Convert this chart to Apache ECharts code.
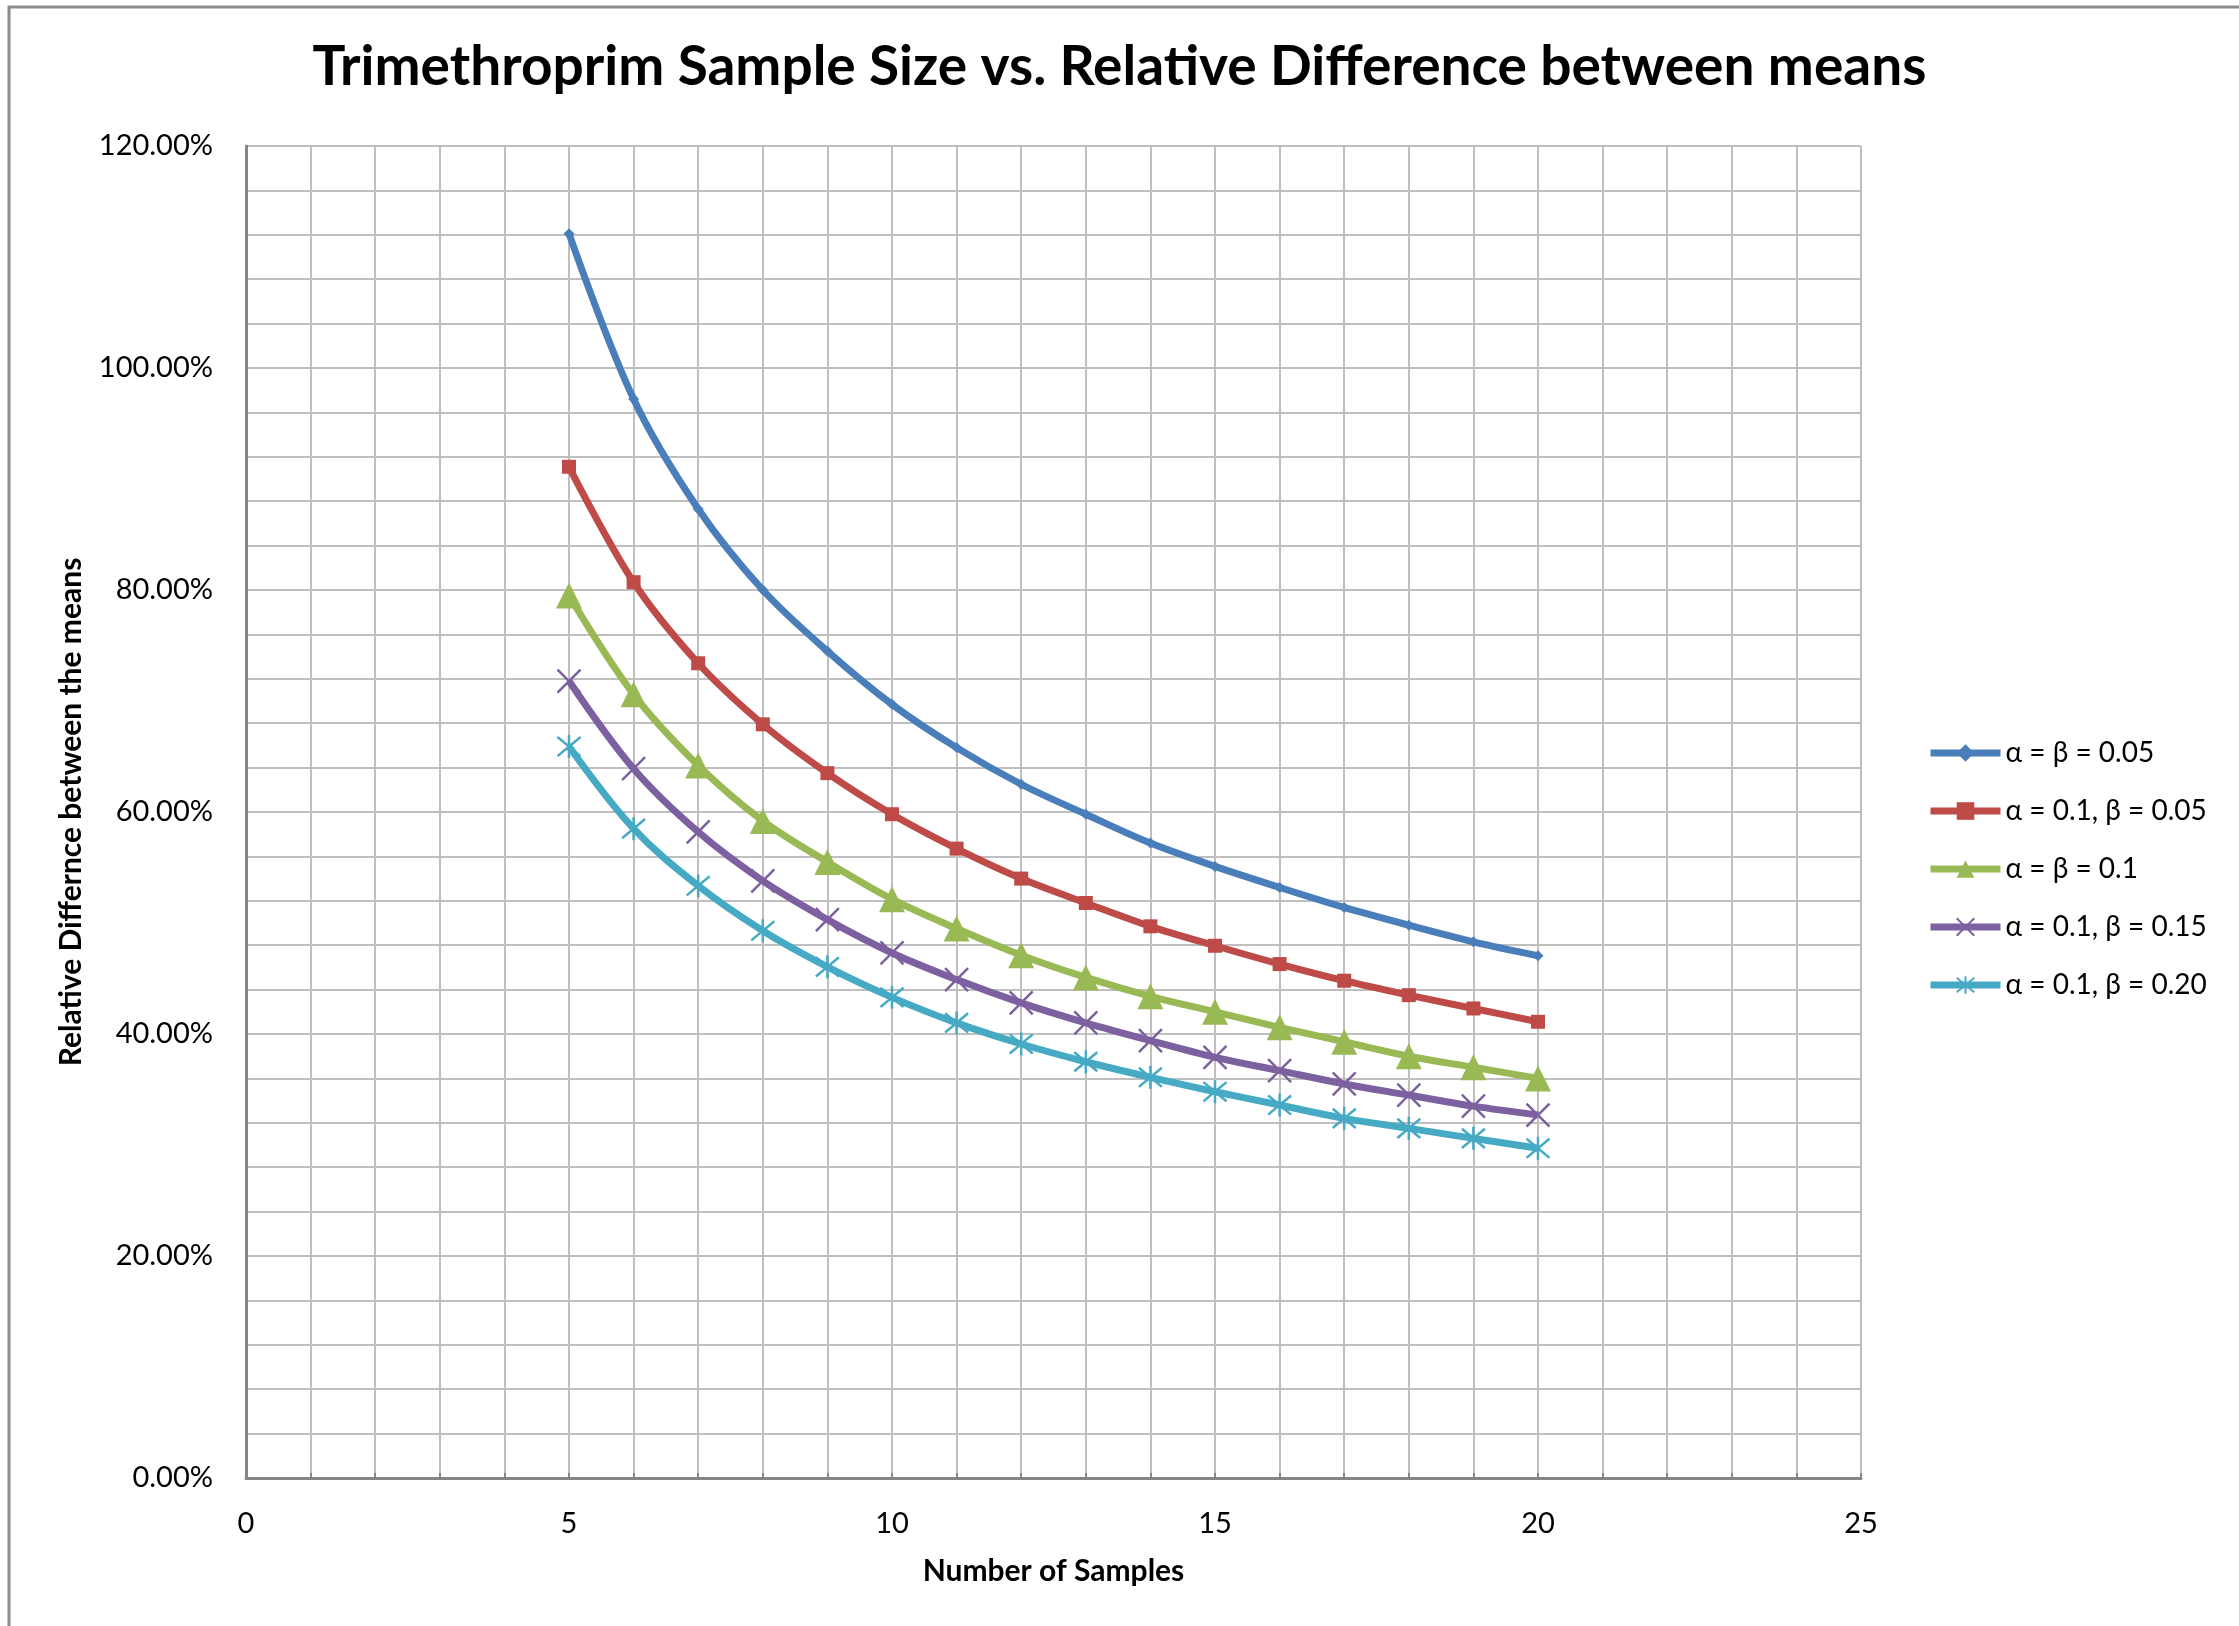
<!DOCTYPE html>
<html>
<head>
<meta charset="utf-8">
<script src="https://cdn.jsdelivr.net/npm/echarts@6/dist/echarts.min.js"></script>
<style>
  html, body { margin: 0; padding: 0; background: #fff; }
  #chart { width: 2239px; height: 1626px; }
</style>
</head>
<body>
<div id="chart"></div>
<script>
// Number of samples
const samples = [5, 6, 7, 8, 9, 10, 11, 12, 13, 14, 15, 16, 17, 18, 19, 20];

// Relative difference between means (%)
const ab005 = [112.1, 97.2, 87.3, 80.0, 74.5, 69.7, 65.8, 62.5, 59.8, 57.2, 55.1, 53.2, 51.4, 49.8, 48.3, 47.05];
const a01b005 = [91.1, 80.7, 73.4, 67.9, 63.5, 59.8, 56.7, 54.0, 51.8, 49.7, 47.95, 46.3, 44.8, 43.5, 42.3, 41.1];
const ab01 = [79.5, 70.6, 64.2, 59.2, 55.5, 52.15, 49.5, 47.1, 45.1, 43.4, 42.0, 40.6, 39.3, 38.0, 37.0, 36.0];
const a01b015 = [71.8, 63.9, 58.2, 53.8, 50.3, 47.3, 44.9, 42.8, 41.0, 39.4, 37.9, 36.7, 35.5, 34.5, 33.5, 32.7];
const a01b020 = [65.9, 58.5, 53.35, 49.3, 46.05, 43.3, 41.0, 39.1, 37.5, 36.1, 34.8, 33.6, 32.4, 31.5, 30.6, 29.7];

const seriesNames = [
  'α = β = 0.05',
  'α = 0.1, β = 0.05',
  'α = β = 0.1',
  'α = 0.1, β = 0.15',
  'α = 0.1, β = 0.20',
];

const FONT = 'Lato, "Open Sans", sans-serif';
const AXIS_COLOR = '#868686';
const GRID_COLOR = '#bfbfbf';

function pairs(values) {
  return samples.map((x, i) => [x, values[i]]);
}

// marker shapes similar to Excel defaults
const crossPath = 'path://M0,0L10,10M10,0L0,10';
const starPath = 'path://M0,0L10,10M10,0L0,10M5,-1L5,11';

function makeSeries(name, values, color, symbol, size, stroke) {
  return {
    name: name,
    type: 'line',
    data: pairs(values),
    smooth: 0.35,
    symbol: symbol,
    symbolSize: size,
    showSymbol: true,
    lineStyle: { color: color, width: 7 },
    itemStyle: stroke
      ? { color: color, borderColor: color, borderWidth: 2.5 }
      : { color: color, borderWidth: 0 },
    emphasis: { disabled: true },
    z: 3,
  };
}

const chart = echarts.init(document.getElementById('chart'));

chart.setOption({
  animation: false,
  backgroundColor: '#ffffff',
  textStyle: { fontFamily: FONT },
  title: {
    text: 'Trimethroprim Sample Size vs. Relative Difference between means',
    left: 'center',
    top: 40,
    padding: 0,
    textStyle: {
      fontFamily: FONT,
      fontSize: 55,
      fontWeight: 'bold',
      color: '#000',
    },
  },
  grid: {
    left: 246,
    top: 146,
    width: 1615,
    height: 1332,
    containLabel: false,
  },
  legend: {
    orient: 'vertical',
    left: 1922,
    top: 734,
    itemWidth: 70,
    itemHeight: 22,
    itemGap: 30,
    data: seriesNames,
    lineStyle: { width: 7 },
    textStyle: { fontFamily: FONT, fontSize: 28, color: '#000' },
  },
  xAxis: {
    type: 'value',
    min: 0,
    max: 25,
    interval: 5,
    name: 'Number of Samples',
    nameLocation: 'middle',
    nameGap: 78,
    nameTextStyle: { fontFamily: FONT, fontSize: 30, fontWeight: 'bold', color: '#000' },
    axisLine: { show: true, onZero: false, lineStyle: { color: AXIS_COLOR, width: 3 } },
    axisTick: { show: true, inside: true, length: 5, lineStyle: { color: AXIS_COLOR, width: 2 } },
    minorTick: { show: true, splitNumber: 5, length: 5, lineStyle: { color: AXIS_COLOR, width: 2 } },
    axisLabel: { fontFamily: FONT, fontSize: 29, color: '#000', margin: 31 },
    splitLine: { show: true, lineStyle: { color: GRID_COLOR, width: 2 } },
    minorSplitLine: { show: true, lineStyle: { color: GRID_COLOR, width: 2 } },
  },
  yAxis: {
    type: 'value',
    min: 0,
    max: 120,
    interval: 20,
    name: 'Relative Differnce between the means',
    nameLocation: 'middle',
    nameGap: 160,
    nameTextStyle: { fontFamily: FONT, fontSize: 30, fontWeight: 'bold', color: '#000' },
    axisLine: { show: true, lineStyle: { color: AXIS_COLOR, width: 3 } },
    axisTick: { show: false },
    minorTick: { show: false, splitNumber: 5 },
    axisLabel: {
      fontFamily: FONT,
      fontSize: 29,
      color: '#000',
      margin: 33,
      formatter: (v) => v.toFixed(2) + '%',
    },
    splitLine: { show: true, lineStyle: { color: GRID_COLOR, width: 2 } },
    minorSplitLine: { show: true, lineStyle: { color: GRID_COLOR, width: 2 } },
  },
  graphic: [
    // outer chart frame (top and left edges visible)
    {
      type: 'polyline',
      shape: { points: [[9, 1626], [9, 7], [2239, 7]] },
      style: { stroke: '#8c8c8c', lineWidth: 3, fill: null },
      silent: true,
    },
  ],
  series: [
    makeSeries(seriesNames[0], ab005, '#4A7EBB', 'diamond', 11, false),
    makeSeries(seriesNames[1], a01b005, '#BE4B48', 'rect', 14, false),
    makeSeries(seriesNames[2], ab01, '#98B954', 'triangle', 26, false),
    makeSeries(seriesNames[3], a01b015, '#7D60A0', crossPath, 23, true),
    makeSeries(seriesNames[4], a01b020, '#46AAC5', starPath, 23, true),
  ],
});
</script>
</body>
</html>
